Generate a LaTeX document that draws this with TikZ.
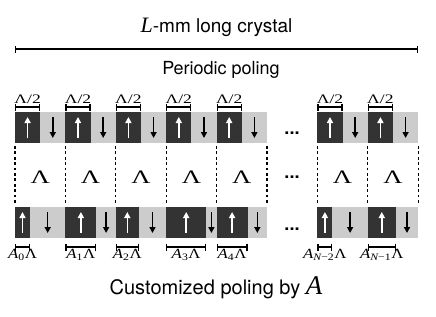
\RequirePackage{fix-cm}
\documentclass[tikz,border=0pt]{standalone}
\usepackage{graphicx}
\usepackage[no-math]{fontspec}
\setmainfont{TeX Gyre Heros}
\newfontfamily\symfont{Liberation Serif}
\usetikzlibrary{arrows.meta}

\newcommand{\widelam}{\scalebox{1.4}[1]{\symfont Λ}}
\newcommand{\halflam}{\scalebox{1.35}[1]{\symfont Λ/2}}
\newcommand{\amplam}[1]{\scalebox{1.2}[1]{\symfont\itshape A\textsubscript{\upshape #1}\upshape Λ}}

\begin{document}
\begin{tikzpicture}[x=1pt, y=-1pt,
    updomain/.style={fill=black!80, minimum height=31pt, inner sep=0pt, outer sep=0pt, anchor=north west},
    downdomain/.style={updomain, fill=black!20},
    uparrow/.style={-{Triangle[width=6pt,length=6pt]}, line width=1.5pt, white},
    downarrow/.style={uparrow, black},
    bracket/.style={{Bar[width=7pt]}-{Bar[width=7pt]}, line width=1.2pt},
    divider/.style={dash pattern=on 2.7pt off 2.7pt, line width=1.3pt},
    domlabel/.style={font=\fontsize{13}{14}\selectfont, inner sep=2.5pt},
    heading/.style={font=\fontsize{18}{20}\selectfont},
    period/.style={font=\fontsize{19}{20}\selectfont},
    gapdots/.style={font=\fontsize{18}{20}\selectfont\bfseries, anchor=base}
]
\useasboundingbox (0,0) rectangle (436,316);

% Crystal length
\node[heading, font=\fontsize{19}{20}\selectfont] (title) at (216.5,27) {{\fontsize{22}{22}\selectfont\symfont\itshape L}-mm long crystal};
\coordinate (cl) at (15,49);
\coordinate (cr) at (418,49);
\draw[bracket] (cl) -- (cr);

% Periodic poling
\node[heading] (periodic) at (221,70) {Periodic poling};
\foreach \k in {0,1,2,3,4,6,7} {
  \node[updomain, minimum width=25.2pt] (t\k) at (15+50.4*\k,112) {};
  \node[downdomain, minimum width=25.2pt] (tl\k) at (t\k.north east) {};
  \draw[uparrow] ([yshift=5pt]t\k.south) -- ([yshift=-5pt]t\k.north);
  \draw[downarrow] ([yshift=-5pt]tl\k.north) -- ([yshift=5pt]tl\k.south);
  \draw[bracket] ([yshift=5pt]t\k.north west) -- ([yshift=5pt]t\k.north east)
    node[midway, above, domlabel] {\halflam};
}
\node[gapdots] (tdots) at (292,134.5) {...};

% Periods
\foreach \k in {0,...,8} {
  \coordinate (dt\k) at (15+50.4*\k,146);
  \coordinate (db\k) at (15+50.4*\k,203);
  \draw[divider] (dt\k) -- (db\k);
}
\foreach \k in {0,1,2,3,4,6,7}
  \node[period] (lam\k) at (15+50.4*\k+25.2,177) {\widelam};
\node[gapdots] (mdots) at (292,178.3) {...};

% Customized poling
\foreach \k/\w/\lab in {0/15/0, 1/31/1, 2/23/2, 3/40/3, 4/31/4, 6/15/{\itshape N\upshape −2}, 7/28/{\itshape N\upshape −1}} {
  \pgfmathsetmacro\rest{50.4-\w}
  \node[updomain, minimum width=\w pt] (b\k) at (15+50.4*\k,207) {};
  \node[downdomain, minimum width=\rest pt] (bl\k) at (b\k.north east) {};
  \draw[uparrow] ([yshift=5pt]b\k.south) -- ([yshift=-5pt]b\k.north);
  \draw[downarrow] ([yshift=-5pt]bl\k.north) -- ([yshift=5pt]bl\k.south);
  \draw[bracket] ([yshift=-9pt]b\k.south west) -- ([yshift=-9pt]b\k.south east)
    node[midway, below, domlabel, font=\fontsize{14}{15}\selectfont, inner sep=1.5pt] {\amplam{\lab}};
}
\node[gapdots] (bdots) at (292,230.3) {...};
\node[heading, font=\fontsize{20}{22}\selectfont] (custom) at (216,288) {Customized poling by {\fontsize{27}{27}\selectfont\symfont\itshape A}};

\end{tikzpicture}
\end{document}
